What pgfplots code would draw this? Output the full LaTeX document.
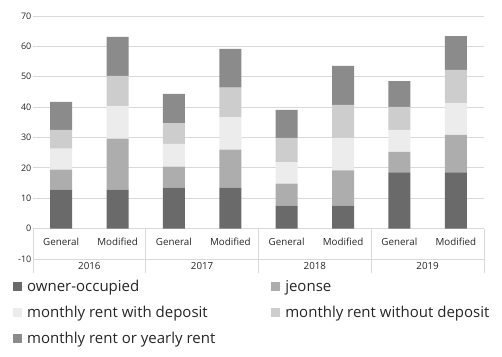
\documentclass[border=0pt]{standalone}
\usepackage{pgfplots}
\pgfplotsset{compat=1.18}
\usepackage{fontspec}
\setmainfont{Open Sans}
\definecolor{cOwner}{HTML}{6A6A6A}
\definecolor{cJeonse}{HTML}{ADADAD}
\definecolor{cWith}{HTML}{ECECEC}
\definecolor{cWithout}{HTML}{CDCDCD}
\definecolor{cYearly}{HTML}{8B8B8B}
\definecolor{cGrid}{HTML}{D9D9D9}
\begin{document}
\begin{tikzpicture}
\useasboundingbox (0,0) rectangle (502bp,357bp);
\begin{axis}[
  at={(33bp,98bp)}, anchor=south west,
  scale only axis, width=451bp, height=243bp,
  ybar stacked, bar width=0.39,
  xmin=-0.5, xmax=7.5, ymin=-10, ymax=70,
  ytick={-10,0,...,70},
  xtick={0.5,2.5,4.5,6.5},
  xticklabels={2016,2017,2018,2019},
  extra x ticks={0,1,2,3,4,5,6,7},
  extra x tick labels={General,Modified,General,Modified,General,Modified,General,Modified},
  extra x tick style={major tick length=0pt, grid=none, xticklabel style={yshift=24bp}},
  major tick length=0pt,
  axis line style={draw=none},
  ymajorgrids, grid style={cGrid, line width=0.8bp},
  tick label style={font=\fontsize{9bp}{11bp}\selectfont, text=black!85},
  xticklabel style={font=\fontsize{9.8bp}{11bp}\selectfont, inner ysep=1bp, yshift=-2bp},
  /pgf/number format/assume math mode=true,
  yticklabel style={inner xsep=1.5bp},
  clip=false,
  legend columns=2,
  legend cell align=left,
  legend style={draw=none, fill=none, at={(-0.051,-0.07)}, anchor=north west,
    font=\fontsize{15bp}{17bp}\selectfont, text=black!85, row sep=9bp,
    /tikz/every even column/.append style={column sep=54bp}},
  legend image code/.code={\fill[#1] (0bp,-4.5bp) rectangle (9bp,4.5bp); \path (0bp,0bp) -- (12bp,0bp);},
]
\addplot+[draw=none, fill=cOwner] coordinates {(0,12.8) (1,12.8) (2,13.5) (3,13.5) (4,7.6) (5,7.6) (6,18.5) (7,18.5)};
\addplot+[draw=none, fill=cJeonse] coordinates {(0,6.6) (1,16.8) (2,6.9) (3,12.5) (4,7.2) (5,11.6) (6,6.8) (7,12.4)};
\addplot+[draw=none, fill=cWith] coordinates {(0,6.9) (1,10.8) (2,7.5) (3,10.6) (4,7.0) (5,10.7) (6,7.2) (7,10.5)};
\addplot+[draw=none, fill=cWithout] coordinates {(0,6.2) (1,9.9) (2,6.8) (3,9.8) (4,8.1) (5,10.8) (6,7.6) (7,10.9)};
\addplot+[draw=none, fill=cYearly] coordinates {(0,9.2) (1,12.8) (2,9.7) (3,12.8) (4,9.2) (5,12.9) (6,8.5) (7,11.1)};
\legend{owner-occupied, jeonse, monthly rent with deposit, monthly rent without deposit, monthly rent or yearly rent}
\foreach \s in {-0.5,1.5,3.5,5.5,7.5}{
  \edef\tmp{\noexpand\draw[cGrid, line width=0.8bp] (axis cs:\s,0) -- (axis cs:\s,-14.5);}\tmp
}
\end{axis}
\end{tikzpicture}
\end{document}
